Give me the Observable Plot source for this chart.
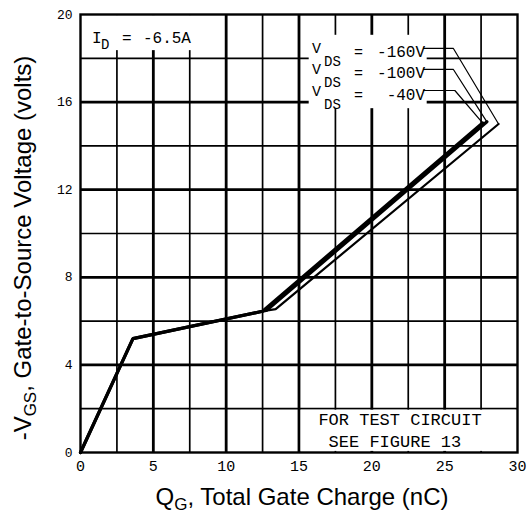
<!DOCTYPE html>
<html><head><meta charset="utf-8">
<script src="https://cdn.jsdelivr.net/npm/d3@7"></script>
<script src="https://cdn.jsdelivr.net/npm/@observablehq/plot@0.6"></script>
<style>
html,body{margin:0;padding:0;background:#fff;}
#chart{width:527px;height:515px;}
</style></head><body><div id="chart"></div>
<script>
// ---- data ----
const xTicks = [0, 5, 10, 15, 20, 25, 30];
const yTicks = [0, 4, 8, 12, 16, 20];
const xGridMajor = [5, 10, 15, 20, 25];
const xGridMinor = [2.5, 7.5, 12.5, 17.5, 22.5, 27.5];
const yGridMajor = [4, 8, 12, 16];
const yGridMinor = [2, 6, 10, 14, 18];

// gate charge curves (Qg nC, -Vgs volts)
const qg40 = [0, 3.6, 12.5, 27.6];
const vgs40 = [0, 5.2, 6.45, 15.05];
const qg100 = [0, 3.6, 12.5, 12.8, 27.9];
const vgs100 = [0, 5.2, 6.45, 6.5, 15.1];
const qg160 = [0, 3.6, 12.5, 13.4, 28.7];
const vgs160 = [0, 5.2, 6.45, 6.55, 15.0];

// legend labels and leader lines
const vdsLabels = ["-160V", "-100V", "-40V"];
const vdsLabelY = [18.04, 17.08, 16.07];
const leaderQ = [[23.55, 25.6, 28.7], [23.55, 25.6, 27.9], [23.55, 25.7, 27.6]];
const leaderV = [[18.45, 18.45, 15.0], [17.49, 17.49, 15.1], [16.53, 16.53, 15.05]];

// white boxes behind annotations
const boxX1 = [0.15, 15.7, 15.15];
const boxX2 = [9.85, 23.8, 29.9];
const boxY1 = [18.35, 15.7, 0.05];
const boxY2 = [19.95, 19.05, 1.93];

const toRows = (q, v) => q.map((d, i) => ({q: d, v: v[i]}));
const boxes = boxX1.map((d, i) => ({x1: d, x2: boxX2[i], y1: boxY1[i], y2: boxY2[i]}));
const leaders = leaderQ.flatMap((qs, k) => qs.map((q, i) => ({k, q, v: leaderV[k][i]})));

const mono = "Liberation Mono, DejaVu Sans Mono, monospace";

const plot = Plot.plot({
  width: 527, height: 515,
  marginLeft: 80, marginRight: 10, marginTop: 14, marginBottom: 63,
  x: {domain: [0, 30]},
  y: {domain: [0, 20]},
  style: {background: "#fff", color: "#000"},
  marks: [
    Plot.ruleX(xGridMinor, {stroke: "#000", strokeWidth: 1.7}),
    Plot.ruleX(xGridMajor, {stroke: "#000", strokeWidth: 2.8}),
    Plot.ruleY(yGridMinor, {stroke: "#000", strokeWidth: 1.7}),
    Plot.ruleY(yGridMajor, {stroke: "#000", strokeWidth: 2.8}),
    Plot.rect(boxes, {x1: "x1", x2: "x2", y1: "y1", y2: "y2", fill: "#fff"}),
    Plot.frame({stroke: "#000", strokeWidth: 2.4}),
    Plot.line(leaders, {x: "q", y: "v", z: "k", stroke: "#000", strokeWidth: 1.2}),
    Plot.line(toRows(qg160, vgs160), {x: "q", y: "v", stroke: "#000", strokeWidth: 2.2, strokeLinejoin: "miter"}),
    Plot.line(toRows(qg100, vgs100), {x: "q", y: "v", stroke: "#000", strokeWidth: 3.2, strokeLinejoin: "miter"}),
    Plot.line(toRows(qg40, vgs40), {x: "q", y: "v", stroke: "#000", strokeWidth: 3.2, strokeLinejoin: "miter"}),
    Plot.axisX({ticks: xTicks, tickSize: 0, tickPadding: 8, fontSize: 15, fontFamily: mono, label: null}),
    Plot.axisY({ticks: yTicks, tickSize: 0, tickPadding: 8, fontSize: 13, fontFamily: mono, label: null})
  ]
});
document.getElementById("chart").appendChild(plot);

// ---- text annotations (with subscripts) ----
const svg = d3.select(plot);
const sx = plot.scale("x"), sy = plot.scale("y");
const g = svg.append("g").attr("fill", "#000").attr("font-family", mono);

function label(xd, yd, parts) {
  const x0 = sx.apply(xd), y0 = sy.apply(yd);
  parts.forEach(p => {
    g.append("text")
      .attr("x", x0 + (p.dx || 0))
      .attr("y", y0 + (p.dy || 0))
      .attr("font-size", p.size)
      .attr("text-anchor", p.anchor || "start")
      .text(p.t);
  });
}

// I_D label
label(0.82, 18.68, [
  {t: "I", size: 16},
  {t: "D", dx: 9, dy: 6, size: 14},
  {t: "=", dx: 30, size: 16},
  {t: "-6.5A", dx: 51, size: 16}
]);

// V_DS labels
vdsLabels.forEach((v, i) => {
  label(15.93, vdsLabelY[i], [
    {t: "V", dy: -4, size: 15},
    {t: "DS", dx: 12, dy: 9, size: 14},
    {t: "=", dx: 42, size: 15},
    {t: v, dx: 113, size: 16, anchor: "end"}
  ]);
});

// test circuit note
label(21.97, 1.23, [{t: "FOR TEST CIRCUIT", size: 17, anchor: "middle"}]);
label(21.62, 0.23, [{t: "SEE FIGURE 13", size: 17, anchor: "middle"}]);

// axis titles
const sans = "Liberation Sans, Arial, sans-serif";
const xt = svg.append("text")
  .attr("x", 302).attr("y", 505)
  .attr("text-anchor", "middle")
  .attr("font-family", sans).attr("font-size", 24).attr("fill", "#000");
xt.append("tspan").text("Q");
xt.append("tspan").attr("font-size", 17).attr("dy", 5).text("G");
xt.append("tspan").attr("dy", -5).text(", Total Gate Charge (nC)");

const yt = svg.append("text")
  .attr("transform", "translate(31,248) rotate(-90)")
  .attr("text-anchor", "middle")
  .attr("font-family", sans).attr("font-size", 24).attr("fill", "#000");
yt.append("tspan").text("-V");
yt.append("tspan").attr("font-size", 17).attr("dy", 5).text("GS");
yt.append("tspan").attr("dy", -5).text(", Gate-to-Source Voltage (volts)");
</script>
</body></html>
